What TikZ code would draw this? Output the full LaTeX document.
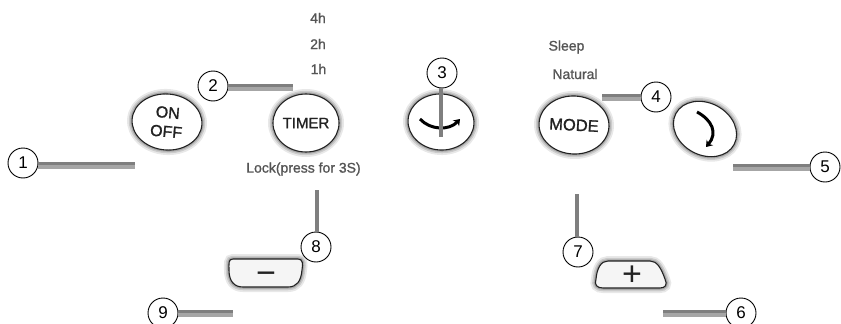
\documentclass[tikz,border=0pt]{standalone}
\usepackage{fontspec}
\setmainfont{Liberation Sans}
\newfontfamily\blurfont{Liberation Sans}[RawFeature={embolden=1.2}]
\usetikzlibrary{shapes.geometric,arrows.meta}
\definecolor{leadA}{HTML}{7F7F7F}
\definecolor{leadB}{HTML}{A6A6A6}
\definecolor{halo}{HTML}{444444}
\definecolor{ink}{HTML}{222222}
\definecolor{soft}{HTML}{555555}
\tikzset{
  num/.style={circle,draw=black,line width=0.9pt,fill=white,minimum size=30pt,inner sep=0pt,font=\fontsize{17}{17}\selectfont},
  hlead/.style={draw=leadB,line width=7pt,postaction={draw=leadA,line width=3.5pt,transform canvas={yshift=1.75pt}}},
  vlead/.style={draw=leadA,line width=4pt},
  softedge/.style={
    preaction={draw=halo,draw opacity=.12,line width=10pt},
    preaction={draw=halo,draw opacity=.18,line width=6.5pt},
    preaction={draw=halo,draw opacity=.25,line width=3.5pt}},
  btn/.style={ellipse,draw=ink,line width=1.1pt,fill=white,inner sep=0pt,softedge,align=center,text=ink},
  keybtn/.style={draw=ink,line width=1.1pt,fill=white!96!black,softedge},
  lab/.style={inner sep=0pt,text=soft,font=\blurfont\fontsize{14}{14}\selectfont},
  curv/.style={draw=black,line width=3pt,-{Stealth[length=6pt,width=8.5pt]}},
  glyph/.style={inner sep=0pt,text=ink,font=\fontsize{34}{34}\selectfont}
}
\begin{document}
\begin{tikzpicture}[x=1pt,y=-1pt]
\useasboundingbox (0,0) rectangle (841,324);
\clip (0,0) rectangle (841,324);
% buttons
\node[btn,minimum width=70pt,minimum height=56pt,rotate=-5,font=\blurfont\fontsize{16}{19}\selectfont] (onoff) at (167,122) {ON\\OFF};
\node[btn,minimum width=66pt,minimum height=58pt,font=\blurfont\fontsize{15}{16}\selectfont] (timer) at (306,123) {TIMER};
\node[btn,minimum width=66pt,minimum height=56pt,rotate=-4] (fan) at (441,122) {};
\node[btn,minimum width=67pt,minimum height=58pt,rotate=-3,font=\blurfont\fontsize{16.5}{16}\selectfont] (mode) at (574,125) {MODE};
\node[btn,minimum width=66pt,minimum height=52pt,rotate=-28] (swing) at (705,129) {};
\draw[keybtn] (233,259) -- (298,259) .. controls (303,259) and (303,264) .. (302,270) .. controls (301,281) and (297,287) .. (288,287) -- (243,287) .. controls (234,287) and (229,281) .. (229,270) .. controls (229,264) and (228,259) .. (233,259) -- cycle;
\draw[keybtn] (608,261) -- (650,261) .. controls (657,261) and (661,268) .. (665,279) .. controls (668,285) and (665,288) .. (660,288) -- (603,288) .. controls (597,288) and (594,285) .. (596,279) .. controls (597,268) and (601,261) .. (608,261) -- cycle;
\node[glyph] (minusglyph) at (266,278) {−};
\node[glyph] (plusglyph) at (632,276) {+};
% curved arrows
\draw[curv] (420,119) .. controls (430,130) and (449,131) .. (460,119);
\draw[curv] (697,112) .. controls (712,120) and (718,133) .. (706,147);
% labels
\node[lab] (h4) at (318,18) {4h};
\node[lab] (h2) at (318,44) {2h};
\node[lab] (h1) at (318.5,69) {1h};
\node[lab] (lock) at (303.5,169) {Lock(press for 3S)};
\node[lab] (sleep) at (566.5,47) {Sleep};
\node[lab] (natural) at (575,74) {Natural};
% leader ends
\coordinate (e1) at (135,165);
\coordinate (e2) at (293,87);
\coordinate (e3) at (441,137);
\coordinate (e4) at (602,97);
\coordinate (e5) at (733,167);
\coordinate (e6) at (663,313);
\coordinate (e7) at (577,194);
\coordinate (e8) at (317,190);
\coordinate (e9) at (233,313);
% numbered circles
\node[num] (n1) at (23,163) {1};
\node[num] (n2) at (213,86) {2};
\node[num] (n3) at (442,73) {3};
\node[num] (n4) at (656,97) {4};
\node[num] (n5) at (825,167) {5};
\node[num] (n6) at (741,313) {6};
\node[num] (n7) at (578,252) {7};
\node[num] (n8) at (316,247) {8};
\node[num] (n9) at (163,313) {9};
% leaders
\draw[hlead] (n1.east |- e1) -- (e1);
\draw[hlead] (n2.east |- e2) -- (e2);
\draw[vlead] (n3.south -| e3) -- (e3);
\draw[hlead] (n4.west |- e4) -- (e4);
\draw[hlead] (n5.west |- e5) -- (e5);
\draw[hlead] (n6.west |- e6) -- (e6);
\draw[vlead] (n7.north -| e7) -- (e7);
\draw[vlead] (n8.north -| e8) -- (e8);
\draw[hlead] (n9.east |- e9) -- (e9);
\end{tikzpicture}
\end{document}
